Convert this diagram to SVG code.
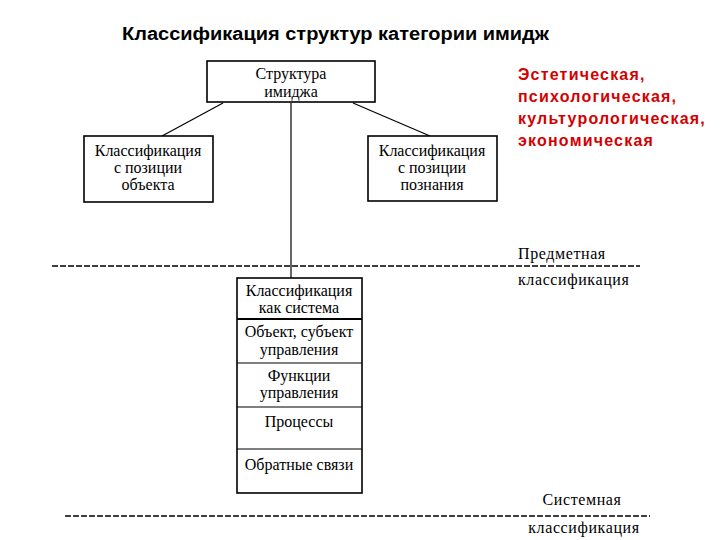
<svg xmlns="http://www.w3.org/2000/svg" width="720" height="540" viewBox="0 0 720 540">
<style>
.box{fill:#fff;stroke:#000;stroke-width:1.6}
.t{font-family:"Liberation Serif",serif;font-size:16px;fill:#000;text-anchor:middle}
.tl{font-family:"Liberation Serif",serif;font-size:16px;letter-spacing:0.6px;fill:#000}
.red{font-family:"Liberation Sans",sans-serif;font-size:16px;font-weight:bold;letter-spacing:1.2px;fill:#d40000}
.ln{stroke:#000;stroke-width:1.2;fill:none}
.dash{stroke:#000;stroke-width:1.3;stroke-dasharray:6 2;fill:none}
</style>
<rect width="720" height="540" fill="#fff"/>
<text x="122" y="40" font-family="Liberation Sans,sans-serif" font-size="18" font-weight="bold" textLength="427" lengthAdjust="spacingAndGlyphs">Классификация структур категории имидж</text>
<g id="connectors">
<line class="ln" x1="223" y1="103" x2="162" y2="136"/>
<line class="ln" x1="353" y1="103" x2="430" y2="136"/>
<line class="ln" x1="291" y1="103" x2="291" y2="278"/>
</g>
<g id="root">
<rect class="box" x="207" y="61" width="168" height="41"/>
<text class="t" x="291" y="79">Структура</text>
<text class="t" x="291" y="97">имиджа</text>
</g>
<g id="left">
<rect class="box" x="84" y="136" width="129" height="66"/>
<text class="t" x="148" y="156">Классификация</text>
<text class="t" x="148" y="173">с позиции</text>
<text class="t" x="148" y="190">объекта</text>
</g>
<g id="right">
<rect class="box" x="368" y="136" width="129" height="65"/>
<text class="t" x="432" y="156">Классификация</text>
<text class="t" x="432" y="173">с позиции</text>
<text class="t" x="432" y="190">познания</text>
</g>
<g id="note">
<text class="red" x="518" y="80">Эстетическая,</text>
<text class="red" x="518" y="102">психологическая,</text>
<text class="red" x="518" y="124">культурологическая,</text>
<text class="red" x="518" y="146">экономическая</text>
</g>
<g id="level1">
<line class="dash" x1="52" y1="266" x2="640" y2="266"/>
<text class="tl" x="518" y="259">Предметная</text>
<text class="tl" x="518" y="285">классификация</text>
</g>
<g id="system">
<rect class="box" x="237" y="278" width="125" height="215"/>
<line x1="237" y1="319" x2="362" y2="319" stroke="#000" stroke-width="2.2"/>
<line class="ln" x1="237" y1="363" x2="362" y2="363"/>
<line class="ln" x1="237" y1="407" x2="362" y2="407"/>
<line class="ln" x1="237" y1="449" x2="362" y2="449"/>
<text class="t" x="299" y="296">Классификация</text>
<text class="t" x="299" y="313">как система</text>
<text class="t" x="299" y="337">Объект, субъект</text>
<text class="t" x="299" y="355">управления</text>
<text class="t" x="299" y="381">Функции</text>
<text class="t" x="299" y="398">управления</text>
<text class="t" x="299" y="427">Процессы</text>
<text class="t" x="299" y="470">Обратные связи</text>
</g>
<g id="level2">
<line class="dash" x1="65" y1="516" x2="650" y2="516"/>
<text class="t" x="582" y="505" style="letter-spacing:0.6px">Системная</text>
<text class="t" x="584" y="533" style="letter-spacing:0.6px">классификация</text>
</g>
</svg>
